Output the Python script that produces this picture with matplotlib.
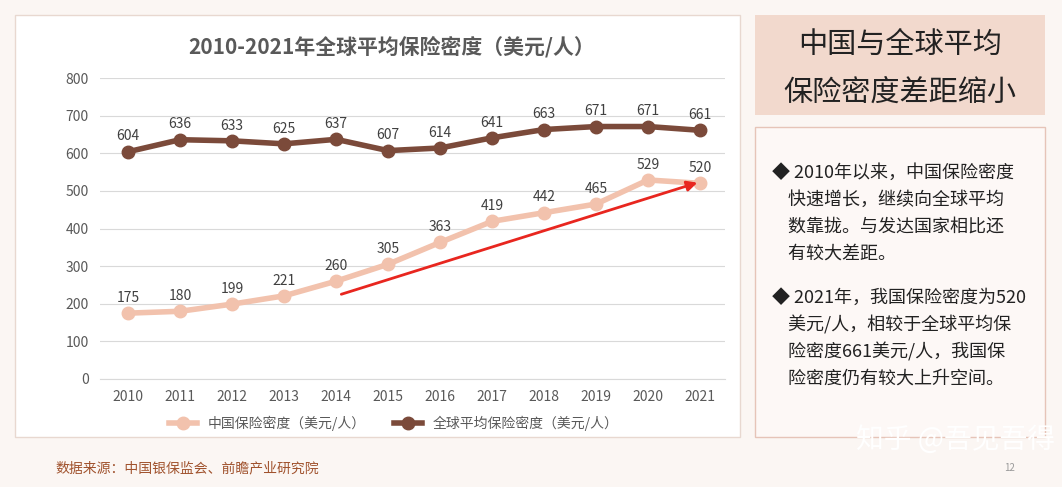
import matplotlib.pyplot as plt
from matplotlib.patches import Rectangle

plt.rcParams['font.family'] = ['Noto Sans CJK SC', 'DejaVu Sans']

years = list(range(2010, 2022))
china = [175, 180, 199, 221, 260, 305, 363, 419, 442, 465, 529, 520]
world = [604, 636, 633, 625, 637, 607, 614, 641, 663, 671, 671, 661]

fig = plt.figure(figsize=(10.62, 4.87), dpi=100)
fig.patch.set_facecolor('#fbf6f3')

# background panels
fig.patches.append(Rectangle((15/1062, 50/487), 725/1062, 422/487, transform=fig.transFigure,
                             facecolor='white', edgecolor='#e8d8d0', lw=1, zorder=-5))
fig.patches.append(Rectangle((755/1062, 372/487), 290/1062, 100/487, transform=fig.transFigure,
                             facecolor='#f2d9cd', edgecolor='none', zorder=-5))
fig.patches.append(Rectangle((755/1062, 50/487), 290/1062, 310/487, transform=fig.transFigure,
                             facecolor='#fdf8f6', edgecolor='#e6c4b8', lw=1, zorder=-5))

ax = fig.add_axes([100/1062, 108/487, 625/1062, 301/487])
ax.set_zorder(5)
ax.patch.set_alpha(0)
ax.plot(years, world, color='#7b4a3a', lw=4, marker='o', ms=9, label='全球平均保险密度（美元/人）')
ax.plot(years, china, color='#f2c2ad', lw=4, marker='o', ms=9, label='中国保险密度（美元/人）')
for x, y in zip(years, world):
    ax.text(x, y + 22, str(y), ha='center', va='bottom', fontsize=10, color='#404040')
for x, y in zip(years, china):
    ax.text(x, y + 22, str(y), ha='center', va='bottom', fontsize=10, color='#404040')
ax.annotate('', xy=(2021, 524), xytext=(2014.05, 223),
            arrowprops=dict(arrowstyle='-|>', color='#e8261f', lw=2, mutation_scale=15))
ax.set_xlim(2009.46, 2021.48)
ax.set_ylim(0, 800)
ax.set_yticks(range(0, 801, 100))
ax.set_xticks(years)
ax.grid(axis='y', color='#d9d9d9', lw=0.8)
ax.set_axisbelow(True)
for s in ['top', 'right', 'left']:
    ax.spines[s].set_visible(False)
ax.spines['bottom'].set_color('#d9d9d9')
ax.tick_params(length=0, labelsize=10, colors='#595959', pad=8)
h, l = ax.get_legend_handles_labels()
ax.legend(h[::-1], l[::-1], loc='upper center', bbox_to_anchor=(0.47, -0.08), ncol=2,
          frameon=False, fontsize=10, labelcolor='#595959')

fig.text(392/1062, 1 - 47/487, '2010-2021年全球平均保险密度（美元/人）', ha='center', va='center',
         fontsize=15, fontweight='bold', color='#595959')
fig.text(900/1062, 1 - 45/487, '中国与全球平均', ha='center', va='center', fontsize=21, color='#222222')
fig.text(900/1062, 1 - 93/487, '保险密度差距缩小', ha='center', va='center', fontsize=21, color='#222222')

p1 = ['◆ 2010年以来，中国保险密度', '    快速增长，继续向全球平均', '    数靠拢。与发达国家相比还', '    有较大差距。']
p2 = ['◆ 2021年，我国保险密度为520', '    美元/人，相较于全球平均保', '    险密度661美元/人，我国保', '    险密度仍有较大上升空间。']
for i, t in enumerate(p1):
    fig.text(772/1062, 1 - (173 + i * 27) / 487, t, ha='left', va='center', fontsize=13, color='#222222')
for i, t in enumerate(p2):
    fig.text(772/1062, 1 - (298 + i * 27) / 487, t, ha='left', va='center', fontsize=13, color='#222222')

fig.text(55/1062, 1 - 468/487, '数据来源：中国银保监会、前瞻产业研究院', ha='left', va='center',
         fontsize=10, color='#a0522d')
fig.text(955/1062, 1 - 440/487, '知乎 @吾见吾得', ha='center', va='center', fontsize=20,
         color='white', zorder=10)
fig.text(1010/1062, 1 - 468/487, '12', ha='center', va='center', fontsize=7, color='#999999')

fig.savefig('out.png', dpi=100, facecolor=fig.get_facecolor())
